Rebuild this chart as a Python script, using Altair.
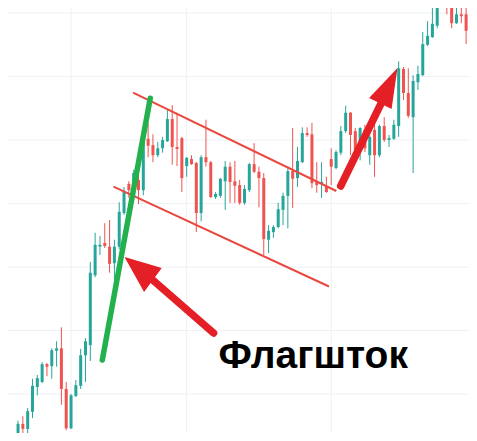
import altair as alt
import pandas as pd

# ---- candle data (bar index, price) ----
idx = list(range(97))
opens = [93.4, 90.4, 92.0, 95.3, 94.5, 97.2, 101.1, 101.9, 104.7, 104.4,
         106.8, 107.2, 100.8, 94.6, 99.7, 101.3, 106.1, 107.7, 118.7, 123.2,
         123.8, 123.2, 120.6, 123.2, 128.5, 133.1, 131.8, 133.7, 132.1, 140.2,
         139.2, 137.6, 138.7, 139.8, 143.3, 138.9, 140.3, 135.9, 137.0, 136.4,
         128.5, 137.3, 136.5, 131.0, 131.2, 133.5, 135.8, 133.5, 132.9, 130.1,
         132.1, 136.2, 135.0, 134.0, 124.3, 125.5, 126.3, 129.0, 131.2, 135.1,
         134.0, 136.5, 141.1, 140.9, 133.4, 133.1, 132.6, 137.0, 135.6, 138.0,
         141.4, 144.3, 141.4, 138.4, 141.6, 137.6, 141.6, 137.6, 142.2, 140.0,
         140.2, 142.2, 151.2, 147.4, 143.6, 149.1, 150.2, 155.0, 156.2, 158.0,
         161.6, 162.7, 161.4, 158.4, 159.8, 159.8, 157.3]
highs = [93.7, 92.1, 95.8, 96.5, 97.8, 102.4, 103.0, 105.0, 104.9, 107.2,
         108.3, 110.5, 101.9, 100.0, 102.2, 107.1, 108.8, 120.8, 125.4, 124.9,
         126.9, 127.4, 124.3, 130.2, 132.6, 133.5, 135.3, 134.6, 141.3, 142.7,
         140.9, 139.7, 140.5, 144.7, 145.5, 144.3, 140.5, 137.3, 137.6, 136.5,
         137.6, 143.2, 136.7, 131.8, 134.0, 136.7, 136.5, 136.7, 133.7, 132.9,
         136.4, 139.5, 135.8, 134.8, 126.6, 126.6, 130.1, 131.7, 135.8, 141.9,
         138.9, 142.0, 142.0, 142.7, 136.5, 136.5, 134.2, 138.7, 138.4, 142.2,
         145.4, 144.4, 141.9, 142.0, 142.4, 140.8, 142.7, 142.4, 143.6, 140.8,
         143.2, 152.4, 151.5, 151.3, 150.2, 151.7, 157.0, 158.7, 161.6, 163.0,
         163.6, 163.3, 161.7, 162.4, 162.5, 162.5, 161.7]
lows = [91.5, 89.9, 91.8, 92.8, 92.8, 96.2, 99.8, 101.7, 102.8, 102.4,
        104.3, 98.3, 94.3, 94.5, 99.5, 100.8, 101.9, 105.2, 118.4, 121.9,
        123.0, 119.1, 118.0, 122.8, 128.2, 130.9, 131.3, 129.9, 131.3, 137.3,
        136.5, 137.3, 138.0, 139.7, 136.1, 135.9, 131.8, 134.2, 136.1, 125.5,
        127.2, 135.8, 130.9, 130.7, 130.9, 129.0, 130.1, 130.1, 129.8, 129.8,
        131.8, 134.8, 129.4, 121.9, 122.2, 124.6, 126.1, 126.6, 126.1, 129.3,
        132.6, 136.4, 140.5, 132.4, 131.7, 130.9, 131.7, 132.9, 135.4, 137.6,
        141.1, 137.6, 138.1, 136.8, 138.1, 136.1, 134.2, 137.3, 139.7, 138.9,
        140.0, 140.5, 146.3, 143.5, 134.8, 147.9, 150.1, 154.8, 156.1, 157.6,
        161.4, 159.8, 157.6, 158.3, 158.4, 155.1, 156.8]
closes = [92.0, 91.8, 95.3, 94.5, 97.3, 101.3, 102.5, 104.7, 104.3, 106.9,
          107.2, 100.8, 94.6, 99.8, 101.4, 106.1, 108.3, 119.1, 123.5, 123.5,
          123.3, 120.5, 123.2, 128.7, 131.8, 132.1, 134.8, 132.1, 139.7, 139.1,
          137.6, 138.7, 140.0, 143.3, 138.9, 138.6, 134.0, 137.2, 136.2, 128.5,
          137.3, 136.5, 131.0, 131.5, 133.9, 135.8, 133.4, 132.8, 130.1, 132.3,
          136.2, 135.0, 134.0, 124.4, 125.7, 126.3, 129.1, 131.2, 135.1, 133.9,
          136.7, 141.1, 140.8, 133.2, 132.9, 133.4, 131.8, 135.8, 138.1, 141.4,
          144.3, 140.8, 138.4, 141.9, 138.7, 140.5, 137.6, 142.2, 140.0, 140.3,
          142.4, 151.3, 147.4, 143.8, 149.3, 150.4, 155.1, 156.4, 158.3, 162.4,
          162.7, 161.3, 158.4, 159.8, 159.5, 157.2, 160.5]

# ---- grid positions ----
grid_prices = [100, 110, 120, 130, 140, 150, 160]
grid_bars = [13, 37, 67]

# ---- annotations (bar index, price) ----
flagpole_i = [19.49, 29.44]
flagpole_p = [105.35, 146.57]

channel_g = ["upper", "upper", "lower", "lower"]
channel_i = [25.87, 68.06, 21.81, 66.54]
channel_p = [147.45, 131.97, 132.65, 116.93]

shaft_g = ["a1", "a1", "a2", "a2"]
shaft_i = [42.58, 28.77, 68.97, 77.70]
shaft_p = [109.61, 118.74, 132.76, 146.30]

head_g = ["a1", "a1", "a1", "a2", "a2", "a2"]
head_i = [24.10, 28.16, 31.82, 74.86, 79.53, 80.75]
head_top = [121.57, 120.66, 119.84, 146.61, 150.36, 151.34]
head_bot = [121.57, 116.06, 119.84, 146.61, 144.88, 151.34]

label_text = ["Флагшток"]
label_i = [43.6]
label_p = [104.1]

UP = "#26a69a"
DOWN = "#ef5350"
GRID = "#eef0f3"

candles = pd.DataFrame({"i": idx, "o": opens, "h": highs, "l": lows, "c": closes})
xs = alt.Scale(domain=[0.954, 94.56], nice=False, zero=False)
ys = alt.Scale(domain=[93.86, 160.79], nice=False, zero=False)


def X(f):
    return alt.X(f, type="quantitative", scale=xs, axis=None)


def Y(f):
    return alt.Y(f, type="quantitative", scale=ys, axis=None)


col = alt.condition("datum.c >= datum.o", alt.value(UP), alt.value(DOWN))

hgrid = alt.Chart(pd.DataFrame({"p": grid_prices})).mark_rule(
    color=GRID, strokeWidth=1).encode(y=Y("p"))
vgrid = alt.Chart(pd.DataFrame({"i": grid_bars})).mark_rule(
    color=GRID, strokeWidth=1).encode(x=X("i"))

wicks = alt.Chart(candles).mark_rule(strokeWidth=1, clip=True).encode(
    x=X("i"), y=Y("l"), y2="h", color=col)
bodies = alt.Chart(candles).mark_bar(size=3, clip=True).encode(
    x=X("i"), y=Y("o"), y2="c", color=col)

chan = alt.Chart(pd.DataFrame({"g": channel_g, "i": channel_i, "p": channel_p})).mark_line(
    color="#e9483f", strokeWidth=2).encode(x=X("i"), y=Y("p"), detail="g:N")

pole = alt.Chart(pd.DataFrame({"i": flagpole_i, "p": flagpole_p})).mark_line(
    color="#22b14c", strokeWidth=5.5, strokeCap="round").encode(x=X("i"), y=Y("p"))

shafts = alt.Chart(pd.DataFrame({"g": shaft_g, "i": shaft_i, "p": shaft_p})).mark_line(
    color="#e41f26", strokeWidth=7.5, strokeCap="round").encode(x=X("i"), y=Y("p"), detail="g:N")

heads = alt.Chart(pd.DataFrame({"g": head_g, "i": head_i, "t": head_top, "b": head_bot})).mark_area(
    color="#e41f26", opacity=1).encode(x=X("i"), y=Y("t"), y2="b", detail="g:N")

label = alt.Chart(pd.DataFrame({"t": label_text, "i": label_i, "p": label_p})).mark_text(
    font="Liberation Sans", fontSize=39, fontWeight="bold", align="left",
    baseline="alphabetic", color="#000000").encode(x=X("i"), y=Y("p"), text="t:N")

chart = alt.layer(hgrid, vgrid, wicks, bodies, chan, pole, shafts, heads, label).properties(
    width=461, height=425, padding=0, autosize=alt.AutoSizeParams(type="none"),
    background="white"
).configure_view(stroke=None)

chart.save("out.html", embed_options={"renderer": "svg", "actions": False})
